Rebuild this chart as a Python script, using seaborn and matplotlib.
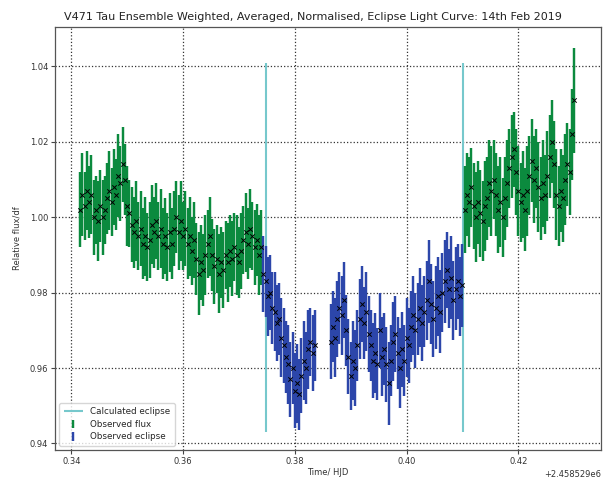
import numpy as np
import matplotlib
matplotlib.use("Agg")
import matplotlib.pyplot as plt
import seaborn as sns

# HJD zero point of the night (14 Feb 2019)
hjd_zero = 2458529.0

# Out-of-eclipse photometry before ingress
time_pre = [0.3416, 0.3420, 0.3424, 0.3428, 0.3432, 0.3436, 0.3440, 0.3444, 0.3448, 0.3452,
            0.3456, 0.3460, 0.3464, 0.3468, 0.3472, 0.3476, 0.3480, 0.3484, 0.3488, 0.3492,
            0.3496, 0.3500, 0.3504, 0.3508, 0.3512, 0.3516, 0.3520, 0.3524, 0.3528, 0.3532,
            0.3536, 0.3540, 0.3544, 0.3548, 0.3552, 0.3556, 0.3560, 0.3564, 0.3568, 0.3572,
            0.3576, 0.3580, 0.3584, 0.3588, 0.3592, 0.3596, 0.3600, 0.3604, 0.3608, 0.3612,
            0.3616, 0.3620, 0.3624, 0.3628, 0.3632, 0.3636, 0.3640, 0.3644, 0.3648, 0.3652,
            0.3656, 0.3660, 0.3664, 0.3668, 0.3672, 0.3676, 0.3680, 0.3684, 0.3688, 0.3692,
            0.3696, 0.3700, 0.3704, 0.3708, 0.3712, 0.3716, 0.3720, 0.3724, 0.3728, 0.3732,
            0.3736, 0.3740]
flux_pre = [1.002, 1.006, 1.003, 1.007, 1.004, 1.006, 1.000, 1.002, 0.999, 1.003,
            1.000, 1.002, 1.005, 1.007, 1.004, 1.008, 1.006, 1.011, 1.009, 1.014,
            1.010, 1.003, 1.001, 0.998, 0.996, 0.999, 0.995, 0.997, 0.993, 0.995,
            0.992, 0.994, 0.998, 0.996, 0.999, 0.995, 0.997, 0.993, 0.995, 0.992,
            0.996, 0.993, 0.997, 1.000, 0.996, 0.999, 0.995, 0.997, 0.993, 0.995,
            0.991, 0.994, 0.989, 0.985, 0.988, 0.986, 0.990, 0.993, 0.995, 0.990,
            0.987, 0.989, 0.985, 0.988, 0.986, 0.990, 0.988, 0.991, 0.989, 0.992,
            0.990, 0.988, 0.991, 0.994, 0.996, 0.993, 0.997, 0.995, 0.992, 0.994,
            0.990, 0.992]
err_pre = [0.0100, 0.0110, 0.0090, 0.0105, 0.0095, 0.0105, 0.0100, 0.0090, 0.0105, 0.0095,
           0.0100, 0.0090, 0.0095, 0.0105, 0.0090, 0.0100, 0.0095, 0.0110, 0.0100, 0.0100,
           0.0095, 0.0105, 0.0090, 0.0100, 0.0095, 0.0105, 0.0090, 0.0100, 0.0095, 0.0105,
           0.0090, 0.0100, 0.0105, 0.0095, 0.0100, 0.0090, 0.0105, 0.0095, 0.0100, 0.0090,
           0.0105, 0.0095, 0.0100, 0.0095, 0.0100, 0.0105, 0.0090, 0.0100, 0.0095, 0.0105,
           0.0090, 0.0100, 0.0095, 0.0110, 0.0100, 0.0095, 0.0105, 0.0090, 0.0105, 0.0095,
           0.0100, 0.0090, 0.0105, 0.0095, 0.0100, 0.0090, 0.0105, 0.0095, 0.0100, 0.0090,
           0.0105, 0.0095, 0.0100, 0.0090, 0.0105, 0.0095, 0.0105, 0.0090, 0.0100, 0.0095,
           0.0105, 0.0100]

# In-eclipse photometry, before the gap
time_ecl_a = [0.3744, 0.3748, 0.3752, 0.3756, 0.3760, 0.3764, 0.3768, 0.3772, 0.3776, 0.3780,
              0.3784, 0.3788, 0.3792, 0.3796, 0.3800, 0.3804, 0.3808, 0.3812, 0.3816, 0.3820,
              0.3824, 0.3828, 0.3832, 0.3836]
flux_ecl_a = [0.985, 0.983, 0.979, 0.980, 0.976, 0.975, 0.972, 0.973, 0.968, 0.966,
              0.963, 0.961, 0.957, 0.960, 0.954, 0.956, 0.953, 0.958, 0.962, 0.960,
              0.965, 0.967, 0.964, 0.966]
err_ecl_a = [0.0100, 0.0095, 0.0105, 0.0100, 0.0095, 0.0105, 0.0100, 0.0095, 0.0105, 0.0100,
             0.0095, 0.0105, 0.0100, 0.0095, 0.0100, 0.0105, 0.0095, 0.0100, 0.0105, 0.0095,
             0.0105, 0.0090, 0.0100, 0.0095]

# In-eclipse photometry, after the gap
time_ecl_b = [0.3864, 0.3868, 0.3872, 0.3876, 0.3880, 0.3884, 0.3888, 0.3892, 0.3896, 0.3900,
              0.3904, 0.3908, 0.3912, 0.3916, 0.3920, 0.3924, 0.3928, 0.3932, 0.3936, 0.3940,
              0.3944, 0.3948, 0.3952, 0.3956, 0.3960, 0.3964, 0.3968, 0.3972, 0.3976, 0.3980,
              0.3984, 0.3988, 0.3992, 0.3996, 0.4000, 0.4004, 0.4008, 0.4012, 0.4016, 0.4020,
              0.4024, 0.4028, 0.4032, 0.4036, 0.4040, 0.4044, 0.4048, 0.4052, 0.4056, 0.4060,
              0.4064, 0.4068, 0.4072, 0.4076, 0.4080, 0.4084, 0.4088, 0.4092, 0.4096, 0.4100]
flux_ecl_b = [0.967, 0.971, 0.968, 0.973, 0.976, 0.974, 0.978, 0.970, 0.963, 0.958,
              0.962, 0.960, 0.966, 0.973, 0.977, 0.972, 0.975, 0.969, 0.966, 0.962,
              0.964, 0.961, 0.970, 0.963, 0.965, 0.961, 0.956, 0.962, 0.967, 0.969,
              0.964, 0.960, 0.965, 0.962, 0.968, 0.966, 0.971, 0.974, 0.970, 0.973,
              0.976, 0.972, 0.975, 0.978, 0.983, 0.977, 0.973, 0.976, 0.979, 0.975,
              0.980, 0.983, 0.986, 0.981, 0.984, 0.978, 0.981, 0.983, 0.979, 0.982]
err_ecl_b = [0.0100, 0.0095, 0.0105, 0.0100, 0.0095, 0.0105, 0.0100, 0.0095, 0.0100, 0.0090,
             0.0105, 0.0100, 0.0095, 0.0105, 0.0100, 0.0095, 0.0105, 0.0100, 0.0095, 0.0100,
             0.0105, 0.0095, 0.0100, 0.0105, 0.0095, 0.0100, 0.0110, 0.0095, 0.0105, 0.0100,
             0.0095, 0.0105, 0.0100, 0.0095, 0.0105, 0.0100, 0.0095, 0.0105, 0.0100, 0.0095,
             0.0105, 0.0100, 0.0095, 0.0105, 0.0110, 0.0105, 0.0100, 0.0110, 0.0105, 0.0110,
             0.0105, 0.0110, 0.0100, 0.0105, 0.0110, 0.0105, 0.0110, 0.0100, 0.0105, 0.0110]

# Out-of-eclipse photometry after egress
time_post = [0.4104, 0.4108, 0.4112, 0.4116, 0.4120, 0.4124, 0.4128, 0.4132, 0.4136, 0.4140,
             0.4144, 0.4148, 0.4152, 0.4156, 0.4160, 0.4164, 0.4168, 0.4172, 0.4176, 0.4180,
             0.4184, 0.4188, 0.4192, 0.4196, 0.4200, 0.4204, 0.4208, 0.4212, 0.4216, 0.4220,
             0.4224, 0.4228, 0.4232, 0.4236, 0.4240, 0.4244, 0.4248, 0.4252, 0.4256, 0.4260,
             0.4264, 0.4268, 0.4272, 0.4276, 0.4280, 0.4284, 0.4288, 0.4292, 0.4296, 0.4300]
flux_post = [1.002, 1.006, 1.004, 1.008, 1.003, 1.000, 1.004, 1.001, 0.999, 1.003,
             1.005, 1.009, 1.007, 1.010, 1.006, 1.002, 1.004, 1.000, 1.005, 1.009,
             1.013, 1.016, 1.018, 1.012, 1.007, 1.004, 1.006, 1.002, 1.007, 1.011,
             1.015, 1.010, 1.013, 1.008, 1.005, 1.009, 1.006, 1.011, 1.016, 1.020,
             1.014, 1.006, 1.003, 1.007, 1.005, 1.010, 1.014, 1.012, 1.022, 1.031]
err_post = [0.0115, 0.0110, 0.0120, 0.0105, 0.0115, 0.0120, 0.0110, 0.0115, 0.0105, 0.0120,
            0.0110, 0.0115, 0.0120, 0.0105, 0.0110, 0.0115, 0.0120, 0.0105, 0.0110, 0.0115,
            0.0105, 0.0110, 0.0100, 0.0115, 0.0120, 0.0105, 0.0115, 0.0110, 0.0120, 0.0105,
            0.0110, 0.0115, 0.0105, 0.0120, 0.0110, 0.0115, 0.0105, 0.0120, 0.0110, 0.0110,
            0.0115, 0.0120, 0.0105, 0.0110, 0.0115, 0.0120, 0.0110, 0.0115, 0.0120, 0.0140]

# Predicted ingress / egress times and the span of their markers
eclipse_times = [0.3748, 0.4101]
eclipse_span = [0.943, 1.041]

flux_colour = "#0b8a3e"
eclipse_colour = "#2c46aa"
predict_colour = "#76c8cc"

sns.set_style("white")
plt.rcParams["font.family"] = ["DejaVu Sans"]

fig = plt.figure(figsize=(6.12, 4.8), dpi=100)
ax = fig.add_axes([0.09, 0.062, 0.892, 0.882])

t_out = hjd_zero + np.array(time_pre + time_post)
f_out = np.array(flux_pre + flux_post)
e_out = np.array(err_pre + err_post)
t_in = hjd_zero + np.array(time_ecl_a + time_ecl_b)
f_in = np.array(flux_ecl_a + flux_ecl_b)
e_in = np.array(err_ecl_a + err_ecl_b)

ax.vlines(hjd_zero + np.array(eclipse_times), eclipse_span[0], eclipse_span[1],
          colors=predict_colour, linewidth=1.5, label="Calculated eclipse", zorder=1)
ax.errorbar(t_out, f_out, yerr=e_out, fmt="none", ecolor=flux_colour,
            elinewidth=1.75, label="Observed flux", zorder=2)
ax.errorbar(t_in, f_in, yerr=e_in, fmt="none", ecolor=eclipse_colour,
            elinewidth=1.75, label="Observed eclipse", zorder=2)

sns.scatterplot(x=np.concatenate([t_out, t_in]), y=np.concatenate([f_out, f_in]),
                marker="x", color="black", s=10, linewidth=0.7, ax=ax,
                legend=False, zorder=3)

ax.set_xlim(hjd_zero + 0.3371, hjd_zero + 0.4348)
ax.set_ylim(0.9382, 1.0505)
ax.set_xticks(hjd_zero + np.array([0.34, 0.36, 0.38, 0.40, 0.42]))
ax.set_yticks([0.94, 0.96, 0.98, 1.00, 1.02, 1.04])
ax.ticklabel_format(axis="x", useOffset=hjd_zero, style="plain")
ax.xaxis.get_major_formatter().set_useOffset(hjd_zero)

ax.grid(True, linestyle=":", color="#333333", linewidth=0.9)
for s in ax.spines.values():
    s.set_color("#555555")
    s.set_linewidth(0.9)
ax.tick_params(axis="both", labelsize=6, length=3, width=0.8, colors="#444444",
               labelcolor="#333333", direction="out", bottom=True, left=True, pad=2)
ax.xaxis.get_offset_text().set_fontsize(6)
ax.xaxis.get_offset_text().set_color("#333333")

ax.set_title("V471 Tau Ensemble Weighted, Averaged, Normalised, Eclipse Light Curve: 14th Feb 2019",
             fontsize=8, color="#222222", pad=5, x=0.473)
ax.set_xlabel("Time/ HJD", fontsize=6, color="#333333", labelpad=1)
ax.set_ylabel("Relative flux/df", fontsize=6, color="#333333", labelpad=6)

leg = ax.legend(loc="lower left", fontsize=6.3, frameon=True, framealpha=0.8,
                handlelength=2.2, borderpad=0.5, labelspacing=0.4)
leg.get_frame().set_edgecolor("#cccccc")

fig.savefig("out.png", dpi=100)
